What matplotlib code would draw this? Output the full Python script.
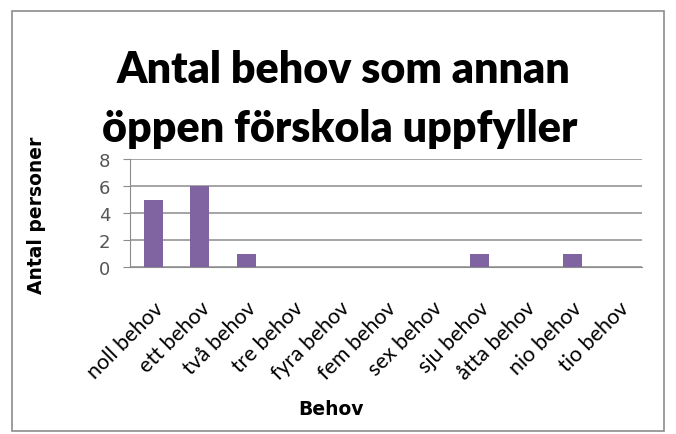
import matplotlib
matplotlib.use('Agg')
import matplotlib.pyplot as plt
from matplotlib.patches import Rectangle

# Data
categories = ["noll behov", "ett behov", "två behov", "tre behov", "fyra behov",
              "fem behov", "sex behov", "sju behov", "åtta behov", "nio behov", "tio behov"]
values = [5, 6, 1, 0, 0, 0, 0, 1, 0, 1, 0]
y_ticks = [0, 2, 4, 6, 8]

W, H = 676, 435
fig = plt.figure(figsize=(W / 100, H / 100), dpi=100)
fig.set_facecolor('white')

# outer chart frame
fig.patches.append(Rectangle((12 / W, 1 - 432 / H), 652 / W, 420 / H,
                             transform=fig.transFigure, fill=False,
                             edgecolor='#8c8c8c', linewidth=1.2))

ax = fig.add_axes([130 / W, 1 - 268 / H, 512 / W, 108 / H])
x = list(range(len(categories)))
ax.bar(x, values, width=0.41, color='#8064a2', zorder=3)
ax.set_xlim(-0.5, len(categories) - 0.5)
ax.set_ylim(0, 8)
ax.set_yticks(y_ticks)
ax.set_yticklabels([str(v) for v in y_ticks], fontsize=13, color='#555555',
                   family='DejaVu Sans')
ax.yaxis.grid(True, color='#8c8c8c', linewidth=1.1, zorder=0)
ax.tick_params(axis='y', length=5, color='#8c8c8c', pad=9, direction='out')
ax.tick_params(axis='x', length=0, pad=22)
ax.set_xticks(x)
ax.set_xticklabels(categories, rotation=45, ha='right', rotation_mode='anchor',
                   fontsize=15.5, family='Lato')
for s in ['top', 'right']:
    ax.spines[s].set_visible(False)
ax.spines['left'].set_color('#8c8c8c')
ax.spines['bottom'].set_color('#8c8c8c')

fig.text(343 / W, 1 - 83 / H, "Antal behov som annan", ha='center', va='baseline',
         fontsize=31, fontweight='heavy', family='Lato')
fig.text(340 / W, 1 - 142 / H, "öppen förskola uppfyller", ha='center', va='baseline',
         fontsize=31, fontweight='heavy', family='Lato')
fig.text(37 / W, 1 - 215 / H, "Antal personer", rotation=90, ha='center', va='center',
         fontsize=13.5, fontweight='bold', family='DejaVu Sans')
fig.text(331 / W, 1 - 410 / H, "Behov", ha='center', va='center',
         fontsize=13.5, fontweight='bold', family='DejaVu Sans')

fig.savefig('out.png', dpi=100, facecolor='white')
